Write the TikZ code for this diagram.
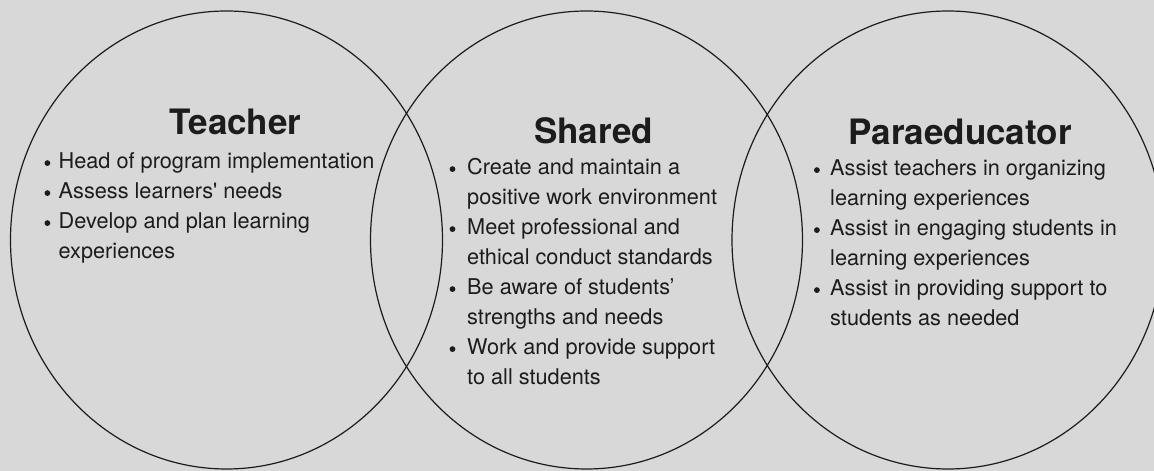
\documentclass[tikz,border=0pt]{standalone}
\usepackage{fontspec}
\setmainfont{TeX Gyre Heros}
\definecolor{paper}{HTML}{D8D8D8}
\definecolor{ink}{HTML}{1C1C1C}
% round bullet hung to the left of a list line
\newcommand{\hangbul}[1]{\llap{\tikz[baseline=-5.9pt]\fill[ink] (0pt,0pt) circle (2.9pt);\hspace{#1}}}
\begin{document}
\begin{tikzpicture}[x=1pt,y=1pt,
  ring/.style={draw=ink, line width=1.2pt},
  heading/.style={font=\bfseries\fontsize{35}{40}\selectfont, text=ink, anchor=base, inner sep=0pt},
  items/.style={font=\fontsize{21.7}{30}\selectfont, text=ink, anchor=base west, inner sep=0pt}]
  \fill[paper] (0,0) rectangle (1154,471);
  \useasboundingbox (0,0) rectangle (1154,471);
  \clip (0,0) rectangle (1154,471);

  % the three overlapping circles
  \draw[ring] (226.5,231) ellipse [x radius=216, y radius=229];
  \draw[ring] (586.5,231) ellipse [x radius=216, y radius=229];
  \draw[ring] (948,231) ellipse [x radius=216, y radius=229];

  % headings
  \node[heading] (teacher) at (235.5,336) {Teacher};
  \node[heading] (shared) at (593.5,327) {Shared};
  \node[heading] (para) at (960,326) {Paraeducator};

  % lists
  \node[items] (teacherlist) at (58.5,302) {\begin{tabular}[t]{@{}l@{}}
    \hangbul{8.4pt}Head of program implementation\\
    \hangbul{8.4pt}Assess learners\textquotesingle{} needs\\
    \hangbul{8.4pt}Develop and plan learning\\
    experiences
  \end{tabular}};

  \node[items] (sharedlist) at (467,296) {\begin{tabular}[t]{@{}l@{}}
    \hangbul{11.8pt}Create and maintain a\\
    positive work environment\\
    \hangbul{11.8pt}Meet professional and\\
    ethical conduct standards\\
    \hangbul{11.8pt}Be aware of students’\\
    strengths and needs\\
    \hangbul{11.8pt}Work and provide support\\
    to all students
  \end{tabular}};

  \node[items] (paralist) at (830,295) {\begin{tabular}[t]{@{}l@{}}
    \hangbul{10.4pt}Assist teachers in organizing\\
    learning experiences\\
    \hangbul{10.4pt}Assist in engaging students in\\
    learning experiences\\
    \hangbul{10.4pt}Assist in providing support to\\
    students as needed
  \end{tabular}};
\end{tikzpicture}
\end{document}
